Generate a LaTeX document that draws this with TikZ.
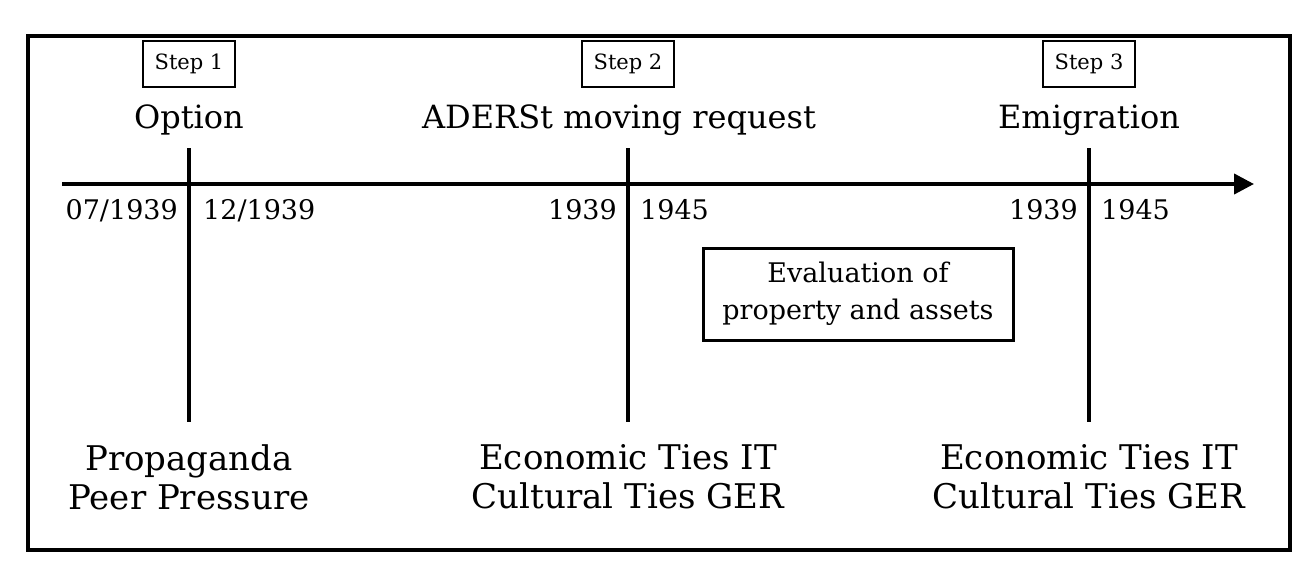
\documentclass[tikz,border=0pt]{standalone}
\usepackage{fontspec}
\setmainfont{DejaVu Serif}
\usetikzlibrary{arrows.meta}
\tikzset{
  stepbox/.style={draw, line width=1.5pt, minimum width=92pt, minimum height=46pt, inner sep=0pt, font=\fontsize{21}{24}\selectfont},
  title/.style={font=\fontsize{32}{36}\selectfont, inner sep=0pt},
  datel/.style={font=\fontsize{27}{30}\selectfont, inner sep=0pt, anchor=east},
  dater/.style={font=\fontsize{27}{30}\selectfont, inner sep=0pt, anchor=west},
  bottom/.style={font=\fontsize{34}{39}\selectfont, inner sep=0pt, align=center},
  tick/.style={line width=4pt},
}
\begin{document}
\begin{tikzpicture}[x=1pt,y=-1pt]
\useasboundingbox (0,0) rectangle (1316,574);
\draw[line width=4pt] (28,36) rectangle (1290,550);
% axis
\coordinate (a0) at (62,184);
\coordinate (a1) at (1254,184);
\draw[line width=4pt, -{Triangle[length=20pt,width=20pt]}] (a0) -- (a1);
% ticks
\coordinate (t1a) at (189,148); \coordinate (t1b) at (189,422);
\coordinate (t2a) at (628,148); \coordinate (t2b) at (628,422);
\coordinate (t3a) at (1089,148); \coordinate (t3b) at (1089,422);
\draw[tick] (t1a) -- (t1b);
\draw[tick] (t2a) -- (t2b);
\draw[tick] (t3a) -- (t3b);
% step boxes
\node[stepbox] (s1) at (189,64) {Step 1};
\node[stepbox] (s2) at (628,64) {Step 2};
\node[stepbox] (s3) at (1089,64) {Step 3};
% titles
\node[title, anchor=base] (o1) at (189,128) {Option};
\node[title, anchor=base] (o2) at (619,128) {ADERSt moving request};
\node[title, anchor=base] (o3) at (1089,128) {Emigration};
% dates
\node[datel, anchor=base east] (d1l) at (178,219) {07/1939};
\node[dater, anchor=base west] (d1r) at (203,219) {12/1939};
\node[datel, anchor=base east] (d2l) at (617,219) {1939};
\node[dater, anchor=base west] (d2r) at (640,219) {1945};
\node[datel, anchor=base east] (d3l) at (1078,219) {1939};
\node[dater, anchor=base west] (d3r) at (1101,219) {1945};
% evaluation box
\node[draw, line width=3pt, minimum width=310pt, minimum height=92pt, align=center, font=\fontsize{27}{37}\selectfont] (ev) at (858,294) {Evaluation of\\property and assets};
% bottom labels
\node[bottom] (b1) at (189,477) {Propaganda\\Peer Pressure};
\node[bottom] (b2) at (628,477) {Economic Ties IT\\Cultural Ties GER};
\node[bottom] (b3) at (1089,477) {Economic Ties IT\\Cultural Ties GER};
\end{tikzpicture}
\end{document}
